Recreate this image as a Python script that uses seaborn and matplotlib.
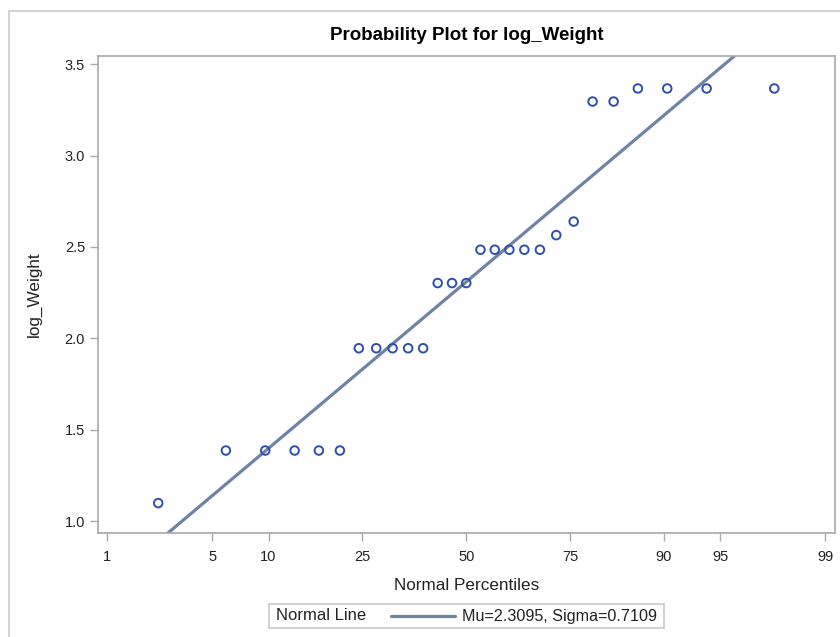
import matplotlib
matplotlib.use('Agg')
import matplotlib.pyplot as plt
import seaborn as sns
import pandas as pd
from statistics import NormalDist
from matplotlib.lines import Line2D
from matplotlib.patches import Rectangle

# log_Weight values (sorted)
log_weight = [1.0986,
              1.3863, 1.3863, 1.3863, 1.3863, 1.3863,
              1.9459, 1.9459, 1.9459, 1.9459, 1.9459,
              2.3026, 2.3026, 2.3026,
              2.4849, 2.4849, 2.4849, 2.4849, 2.4849,
              2.5649, 2.6391,
              3.2958, 3.2958,
              3.3673, 3.3673, 3.3673, 3.3673]
mu = 2.3095
sigma = 0.7109
pct_ticks = [1, 5, 10, 25, 50, 75, 90, 95, 99]
y_ticks = [1.0, 1.5, 2.0, 2.5, 3.0, 3.5]

W, H = 840, 637

def fx(px):
    return px / W

def fy(py):
    return 1 - py / H

# Blom plotting positions -> normal quantiles
nd = NormalDist()
n = len(log_weight)
df = pd.DataFrame({'log_Weight': log_weight,
                   'z': [nd.inv_cdf((i - 0.375) / (n + 0.25)) for i in range(1, n + 1)]})

sns.set_style('white')
plt.rcParams['font.family'] = ['Liberation Sans', 'DejaVu Sans']

fig = plt.figure(figsize=(W / 100, H / 100), dpi=100)
ax = fig.add_axes([fx(97.5), fy(533), fx(835) - fx(97.5), fy(56) - fy(533)])

line_col = '#6F84A4'
mark_col = '#2E50A8'
frame_col = '#A9A9A9'
txt_col = '#222222'

ax.axline((0, mu), slope=sigma, color=line_col, lw=2.3, zorder=2)
sns.scatterplot(data=df, x='z', y='log_Weight', ax=ax, marker='o', s=38,
                facecolors='none', edgecolor=mark_col, linewidth=1.4, zorder=3)

ax.set_xlim(-2.39, 2.39)
ax.set_ylim(0.935, 3.545)
ax.set_xticks([nd.inv_cdf(p / 100) for p in pct_ticks])
ax.set_xticklabels([str(p) for p in pct_ticks])
ax.set_yticks(y_ticks)
ax.set_yticklabels([f'{v:.1f}' for v in y_ticks])
ax.tick_params(axis='both', bottom=True, left=True, direction='out', length=6, width=1,
               color=frame_col, labelsize=10.5, labelcolor=txt_col)
ax.tick_params(axis='x', pad=6.5)
ax.tick_params(axis='y', pad=3)
for sp in ax.spines.values():
    sp.set_color(frame_col)
    sp.set_linewidth(1.2)
ax.set_xlabel('')
ax.set_ylabel('')

fig.text(fx(467), fy(36), 'Probability Plot for log_Weight', ha='center', va='center',
         fontsize=13.5, fontweight='bold', color='black')
fig.text(fx(467), fy(585), 'Normal Percentiles', ha='center', va='center',
         fontsize=12.3, color=txt_col)
fig.text(fx(34), fy(294), 'log_Weight', ha='center', va='center', rotation=90,
         fontsize=12.3, color=txt_col)

# outer frame of the image
fig.add_artist(Line2D([fx(8.5), fx(8.5)], [0, fy(10.5)], color='#D3D3D3', lw=1.5))
fig.add_artist(Line2D([fx(8.5), 1], [fy(10.5), fy(10.5)], color='#D3D3D3', lw=1.5))

# legend box
fig.add_artist(Rectangle((fx(269), fy(628)), fx(664) - fx(269), fy(604) - fy(628),
                         facecolor='white', edgecolor='#C8C8C8', lw=1.2))
fig.text(fx(276), fy(616), 'Normal Line', ha='left', va='center', fontsize=12, color=txt_col)
fig.add_artist(Line2D([fx(391), fx(455)], [fy(616), fy(616)], color=line_col, lw=2.3))
fig.text(fx(462), fy(616), f'Mu={mu:.4f}, Sigma={sigma:.4f}', ha='left', va='center',
         fontsize=11.6, color=txt_col)

fig.savefig('out.png', dpi=100)
